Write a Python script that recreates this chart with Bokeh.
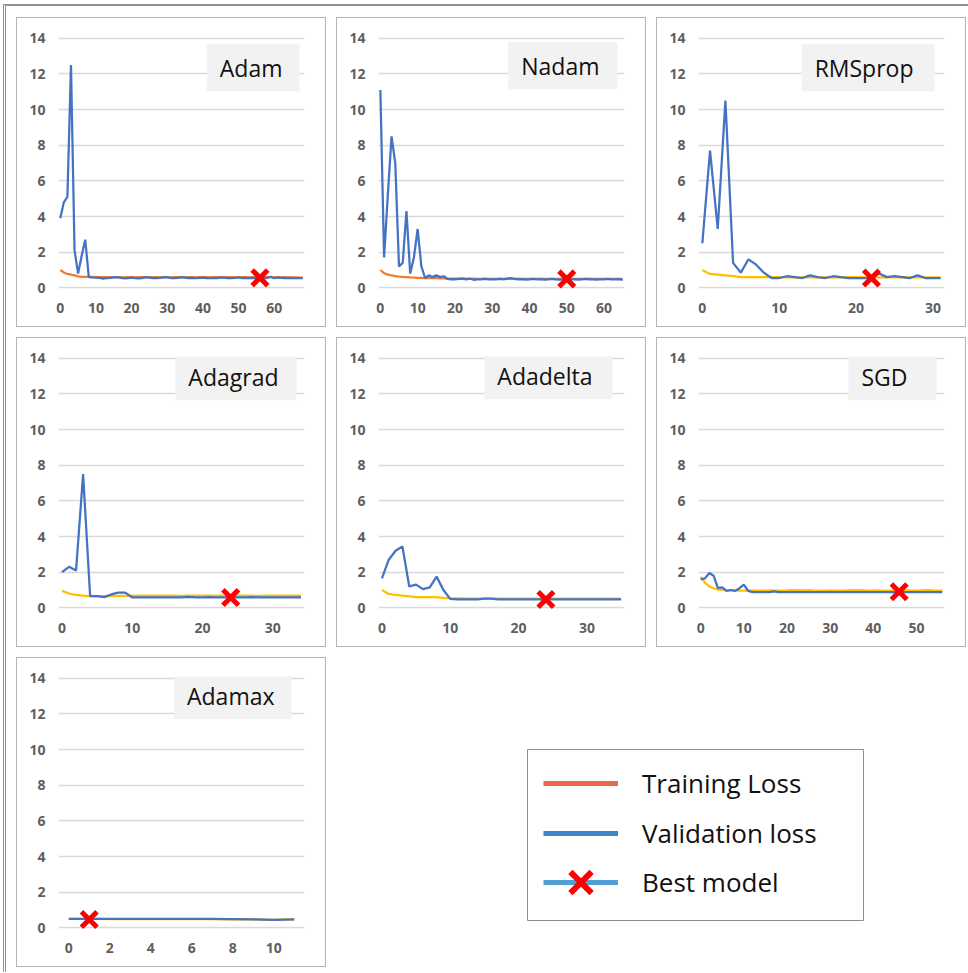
from bokeh.plotting import figure
from bokeh.models import Range1d, SingleIntervalTicker, Label, Legend, LegendItem, Spacer
from bokeh.layouts import row, column
from bokeh.embed import file_html
from bokeh.resources import INLINE

optimizers = ["Adam", "Nadam", "RMSprop", "Adagrad", "Adadelta", "SGD", "Adamax"]

adam_val = [3.9, 4.8, 5.1, 12.5, 2.1, 0.8, 1.8, 2.7, 0.6,
            0.58, 0.57, 0.56, 0.52, 0.55, 0.56, 0.58, 0.6, 0.56, 0.53,
            0.55, 0.57, 0.55, 0.53, 0.55, 0.6, 0.57, 0.55, 0.54, 0.56,
            0.58, 0.6, 0.55, 0.54, 0.56, 0.6, 0.57, 0.54, 0.56, 0.55,
            0.56, 0.57, 0.54, 0.55, 0.56, 0.55, 0.58, 0.57, 0.55, 0.54,
            0.56, 0.58, 0.55, 0.56, 0.54, 0.56, 0.55, 0.56, 0.57, 0.55,
            0.62, 0.54, 0.58, 0.56, 0.54, 0.56, 0.55, 0.54, 0.55, 0.54]
adam_train = [1.0, 0.86, 0.78, 0.74, 0.7, 0.64, 0.62, 0.62, 0.61,
              0.61, 0.6, 0.6, 0.6, 0.6, 0.6, 0.59, 0.6, 0.6, 0.59,
              0.6, 0.6, 0.59, 0.6, 0.6, 0.59, 0.6, 0.6, 0.6, 0.59,
              0.6, 0.6, 0.59, 0.6, 0.6, 0.6, 0.59, 0.6, 0.6, 0.59,
              0.6, 0.6, 0.6, 0.59, 0.6, 0.6, 0.6, 0.59, 0.6, 0.6,
              0.59, 0.6, 0.6, 0.6, 0.59, 0.6, 0.6, 0.59, 0.6, 0.6,
              0.6, 0.59, 0.6, 0.59, 0.6, 0.59, 0.58, 0.58, 0.57, 0.57]

nadam_val = [11.1, 1.7, 5.2, 8.5, 7.0, 1.2, 1.4, 4.3, 0.8, 1.7, 3.3, 1.2,
             0.55, 0.7, 0.6, 0.7, 0.6, 0.65, 0.5, 0.48, 0.48, 0.5,
             0.52, 0.48, 0.52, 0.45, 0.48, 0.48, 0.5, 0.48, 0.47, 0.48,
             0.5, 0.48, 0.52, 0.55, 0.5, 0.47, 0.49, 0.46, 0.48, 0.5,
             0.47, 0.48, 0.46, 0.48, 0.5, 0.47, 0.46, 0.48, 0.5, 0.47,
             0.48, 0.46, 0.48, 0.5, 0.47, 0.48, 0.46, 0.47, 0.48, 0.5,
             0.47, 0.48, 0.49, 0.45]
nadam_train = [1.0, 0.82, 0.74, 0.7, 0.66, 0.63, 0.61, 0.6, 0.58, 0.57, 0.56, 0.56,
               0.55, 0.55, 0.54, 0.54, 0.53, 0.53, 0.52, 0.52, 0.52, 0.51,
               0.51, 0.51, 0.5, 0.51, 0.5, 0.5, 0.51, 0.5, 0.5, 0.5,
               0.51, 0.5, 0.5, 0.5, 0.5, 0.51, 0.5, 0.5, 0.5, 0.5,
               0.5, 0.51, 0.5, 0.5, 0.5, 0.5, 0.5, 0.51, 0.5, 0.5,
               0.5, 0.5, 0.5, 0.5, 0.51, 0.5, 0.5, 0.5, 0.5, 0.5,
               0.5, 0.5, 0.5, 0.5]

rmsprop_val = [2.5, 7.7, 3.3, 10.5, 1.4, 0.85, 1.6, 1.3, 0.85, 0.55,
               0.55, 0.65, 0.6, 0.55, 0.7, 0.6, 0.55, 0.65, 0.6, 0.55,
               0.55, 0.55, 0.55, 0.8, 0.6, 0.65, 0.6, 0.55, 0.7, 0.55,
               0.55, 0.55]
rmsprop_train = [1.0, 0.78, 0.74, 0.7, 0.65, 0.6, 0.6, 0.6, 0.6, 0.6,
                 0.6, 0.58, 0.58, 0.58, 0.58, 0.6, 0.58, 0.58, 0.58, 0.6,
                 0.6, 0.58, 0.58, 0.58, 0.58, 0.58, 0.6, 0.58, 0.6, 0.58,
                 0.58, 0.58]

adagrad_val = [2.0, 2.3, 2.1, 7.5, 0.65, 0.65, 0.6, 0.75, 0.85, 0.85,
               0.58, 0.58, 0.58, 0.58, 0.58, 0.58, 0.58, 0.58, 0.62, 0.58,
               0.58, 0.6, 0.58, 0.58, 0.58, 0.58, 0.58, 0.6, 0.58, 0.58,
               0.58, 0.58, 0.58, 0.58, 0.58]
adagrad_train = [0.95, 0.8, 0.72, 0.68, 0.66, 0.65, 0.65, 0.66, 0.67, 0.67,
                 0.68, 0.68, 0.68, 0.68, 0.68, 0.68, 0.68, 0.67, 0.68, 0.68,
                 0.68, 0.68, 0.68, 0.68, 0.69, 0.68, 0.68, 0.68, 0.67, 0.68,
                 0.68, 0.68, 0.68, 0.68, 0.68]

adadelta_val = [1.65, 2.7, 3.2, 3.45, 1.2, 1.3, 1.05, 1.15, 1.75, 1.0,
                0.5, 0.47, 0.47, 0.47, 0.48, 0.52, 0.52, 0.48, 0.47, 0.47,
                0.47, 0.47, 0.47, 0.47, 0.47, 0.47, 0.47, 0.47, 0.47, 0.47,
                0.47, 0.47, 0.47, 0.47, 0.47, 0.47]
adadelta_train = [1.0, 0.78, 0.72, 0.68, 0.64, 0.6, 0.6, 0.6, 0.6, 0.56,
                  0.54, 0.53, 0.53, 0.52, 0.52, 0.52, 0.52, 0.52, 0.52, 0.52,
                  0.52, 0.52, 0.52, 0.52, 0.52, 0.52, 0.52, 0.52, 0.52, 0.52,
                  0.52, 0.52, 0.52, 0.52, 0.52, 0.52]

sgd_val = [1.6, 1.65, 1.95, 1.8, 1.1, 1.15, 0.95, 1.0, 0.95, 1.1,
           1.3, 0.95, 0.88, 0.88, 0.88, 0.88, 0.88, 0.92, 0.88, 0.88,
           0.88, 0.88, 0.88, 0.88, 0.88, 0.88, 0.88, 0.88, 0.88, 0.88,
           0.88, 0.88, 0.88, 0.88, 0.88, 0.88, 0.88, 0.88, 0.88, 0.88,
           0.88, 0.88, 0.88, 0.88, 0.88, 0.88, 0.88, 0.88, 0.88, 0.88,
           0.88, 0.88, 0.88, 0.88, 0.88, 0.88, 0.88]
sgd_train = [1.75, 1.4, 1.2, 1.1, 1.02, 1.0, 0.98, 0.98, 0.97, 0.97,
             0.97, 0.97, 0.98, 0.97, 0.97, 0.97, 0.98, 0.97, 0.97, 0.97,
             0.97, 0.99, 0.99, 0.98, 0.98, 0.99, 0.97, 0.97, 0.97, 0.97,
             0.98, 0.97, 0.97, 0.97, 0.98, 0.99, 0.99, 0.99, 0.98, 0.97,
             0.97, 0.98, 0.97, 0.97, 0.97, 0.97, 0.97, 0.97, 0.98, 0.97,
             0.97, 0.98, 0.99, 0.99, 0.97, 0.97, 0.97]

adamax_val = [0.5, 0.5, 0.5, 0.5, 0.5, 0.5, 0.5, 0.5, 0.49, 0.47, 0.44, 0.47]
adamax_train = [0.5, 0.5, 0.49, 0.49, 0.49, 0.49, 0.49, 0.49, 0.48, 0.47, 0.45, 0.47]

best_epoch = [56, 50, 22, 24, 24, 46, 1]
best_loss = [0.56, 0.5, 0.55, 0.58, 0.47, 0.9, 0.47]
x_tick_step = [10, 10, 10, 10, 10, 10, 2]
y_ticks_step = 2
legend_labels = ["Training Loss", "Validation loss", "Best model"]

val_series = [adam_val, nadam_val, rmsprop_val, adagrad_val, adadelta_val, sgd_val, adamax_val]
train_series = [adam_train, nadam_train, rmsprop_train, adagrad_train, adadelta_train, sgd_train, adamax_train]

BLUE = "#4472C4"
ORANGE = "#ED7D31"
GOLD = "#FFC000"
train_colors = [ORANGE, ORANGE, GOLD, GOLD, GOLD, GOLD, GOLD]

# title box placement: (gap from frame right, gap below the 14 gridline, right padding)
title_place = [(5, 6, 17), (7, 4, 18), (10, 6, 21), (8, -5, 18), (12, -6, 20), (8, -5, 29), (13, -6, 17)]

FONT = "Open Sans"
PANEL_BORDER = "1px solid #b4b4b4"
FRAME_COLOR = "#8f8f8f"
NAN = float("nan")
PANEL_W = 308   # figure size inside the 1px panel border
PANEL_H = 308
GAP = 10
LEG_W = 338
LEG_H = 173


def make_panel(i):
    name = optimizers[i]
    val = val_series[i]
    tr = train_series[i]
    xs = list(range(len(val)))
    xt = list(range(len(tr)))
    x_end = len(val) - 0.5
    p = figure(width=PANEL_W, height=PANEL_H, output_backend="svg", toolbar_location=None,
               x_range=Range1d(-0.5, x_end), y_range=Range1d(-0.15, 14.1),
               min_border_left=41, min_border_right=21, min_border_top=18, min_border_bottom=36)
    p.outline_line_color = None
    p.background_fill_color = "white"
    p.border_fill_color = "white"
    p.xgrid.visible = False
    p.ygrid.grid_line_color = "#d9d9d9"
    p.ygrid.grid_line_width = 1.5
    p.xaxis.ticker = SingleIntervalTicker(interval=x_tick_step[i], num_minor_ticks=0)
    p.yaxis.ticker = SingleIntervalTicker(interval=y_ticks_step, num_minor_ticks=0)
    for ax in (p.xaxis[0], p.yaxis[0]):
        ax.axis_line_color = None
        ax.major_tick_line_color = None
        ax.minor_tick_line_color = None
        ax.major_tick_out = 0
        ax.major_label_text_font = FONT
        ax.major_label_text_font_size = "14px"
        ax.major_label_text_font_style = "bold"
        ax.major_label_text_color = "#5f5f5f"
    p.yaxis.major_label_standoff = 13
    p.xaxis.major_label_standoff = 12

    p.line(xt, tr, line_color=train_colors[i], line_width=2.25)
    p.line(xs, val, line_color=BLUE, line_width=2.25)
    p.scatter([best_epoch[i]], [best_loss[i]], marker="x", size=22,
              line_color="#FF0000", line_width=5)

    gap_r, gap_t, pad_r = title_place[i]
    p.add_layout(Label(x=x_end, y=14.1, x_offset=-gap_r, y_offset=-(gap_t + 1.8),
                       text=name, text_align="right", text_baseline="top",
                       text_font=FONT, text_font_size="23px", text_color="#111111",
                       background_fill_color="#f2f2f2",
                       padding=dict(left=13, right=pad_r, top=8, bottom=7)))
    return column(p, styles={"border": PANEL_BORDER})


panels = [make_panel(i) for i in range(7)]

# legend panel (legend keys only; proxies carry no visible data)
lg = figure(width=LEG_W, height=LEG_H, output_backend="svg", toolbar_location=None,
            x_range=Range1d(0, 1), y_range=Range1d(0, 1), min_border=1)
lg.axis.visible = False
lg.grid.visible = False
lg.outline_line_color = "#8c8c8c"
lg.background_fill_color = "white"
r_train = lg.line(x=[NAN], y=[NAN], line_color="#E8694A", line_width=5)
r_val = lg.line(x=[NAN], y=[NAN], line_color="#3A86C8", line_width=5)
r_best_line = lg.line(x=[NAN], y=[NAN], line_color="#519FD3", line_width=5)
r_best_x = lg.scatter(x=[NAN], y=[NAN], marker="x", size=30, line_color="#FF0000", line_width=6)

item_sets = [[r_train], [r_val], [r_best_line, r_best_x]]
item_centers = [34, 84, 133]
GLYPH_H = 80
for lab, rends, c in zip(legend_labels, item_sets, item_centers):
    leg = Legend(items=[LegendItem(label=lab, renderers=rends)],
                 location=(16, (LEG_H - 2) - (c - GLYPH_H // 2) - GLYPH_H),
                 glyph_width=75, glyph_height=GLYPH_H,
                 label_standoff=24, padding=0, spacing=0, margin=0,
                 border_line_color=None, background_fill_alpha=0,
                 label_text_font=FONT, label_text_font_size="26px",
                 label_text_color="#111111")
    lg.add_layout(leg)

row1 = row(panels[0], Spacer(width=GAP), panels[1], Spacer(width=GAP), panels[2])
row2 = row(panels[3], Spacer(width=GAP), panels[4], Spacer(width=GAP), panels[5])
row3 = row(panels[6], Spacer(width=200), column(Spacer(height=91), lg))
content = column(row1, Spacer(height=GAP), row2, Spacer(height=GAP), row3)

# outer frame of the picture: top rule and double left rule
framed = column(content, styles={
    "border-top": f"2px solid {FRAME_COLOR}",
    "border-left": f"3px double {FRAME_COLOR}",
    "padding": "11px 2px 5px 10px",
})
root = column(Spacer(height=4), row(Spacer(width=3), framed))

open("out.html", "w").write(file_html(root, INLINE))
